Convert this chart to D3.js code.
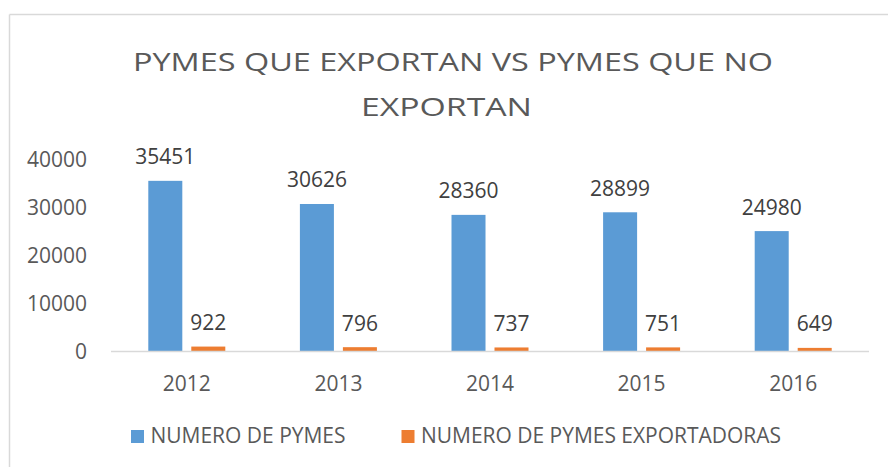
<!DOCTYPE html>
<html>
<head>
<meta charset="utf-8">
<script src="https://cdn.jsdelivr.net/npm/d3@7"></script>
<style>
  html, body { margin: 0; padding: 0; background: #fff; }
  svg { display: block; }
  text { font-family: "Open Sans", "Noto Sans", sans-serif; }
</style>
</head>
<body>
<div id="wrap"></div>
<script>

// data
var years = ["2012", "2013", "2014", "2015", "2016"];
var pymes = [35451, 30626, 28360, 28899, 24980];
var exportadoras = [922, 796, 737, 751, 649];
var seriesNames = ["NUMERO DE PYMES", "NUMERO DE PYMES EXPORTADORAS"];
var yTicks = [0, 10000, 20000, 30000, 40000];
var colors = ["#5b9bd5", "#ed7d31"];

var W = 888, H = 467;

var svg = d3.select("#wrap").append("svg")
    .attr("width", W)
    .attr("height", H);

// chart frame (top + left edges visible)
svg.append("line")
    .attr("x1", 9.5).attr("x2", W)
    .attr("y1", 14.5).attr("y2", 14.5)
    .attr("stroke", "#d9d9d9").attr("stroke-width", 1.5);
svg.append("line")
    .attr("x1", 9.5).attr("x2", 9.5)
    .attr("y1", 14.5).attr("y2", H)
    .attr("stroke", "#d9d9d9").attr("stroke-width", 1.5);

// title
var title = svg.append("g").attr("fill", "#595959");
title.append("text")
    .attr("x", 453).attr("y", 71)
    .attr("text-anchor", "middle")
    .attr("font-size", 26)
    .attr("textLength", 640)
    .attr("lengthAdjust", "spacingAndGlyphs")
    .text("PYMES QUE EXPORTAN VS PYMES QUE NO");
title.append("text")
    .attr("x", 446.5).attr("y", 116)
    .attr("text-anchor", "middle")
    .attr("font-size", 26)
    .attr("textLength", 171)
    .attr("lengthAdjust", "spacingAndGlyphs")
    .text("EXPORTAN");

// scales
var x0 = d3.scaleBand()
    .domain(years)
    .range([111, 869])
    .padding(0);

var groupW = 77;
var x1 = d3.scaleBand()
    .domain([0, 1])
    .range([0, groupW])
    .paddingInner(0.209);

var y = d3.scaleLinear()
    .domain([0, 40000])
    .range([351, 159]);

// y axis labels (no line, no grid)
svg.append("g")
    .selectAll("text")
    .data(yTicks)
    .enter()
    .append("text")
    .attr("x", 87)
    .attr("y", function(d) { return y(d); })
    .attr("dy", "0.36em")
    .attr("text-anchor", "end")
    .attr("font-size", 21)
    .attr("fill", "#595959")
    .text(function(d) { return d; });

// bars
var rows = years.map(function(yr, i) {
    return { year: yr, vals: [pymes[i], exportadoras[i]] };
});

var groups = svg.append("g")
    .selectAll("g")
    .data(rows)
    .enter()
    .append("g")
    .attr("transform", function(d) {
        return "translate(" + (x0(d.year) + (x0.bandwidth() - groupW) / 2) + ",0)";
    });

groups.selectAll("rect")
    .data(function(d) { return d.vals; })
    .enter()
    .append("rect")
    .attr("x", function(d, i) { return x1(i); })
    .attr("width", x1.bandwidth())
    .attr("y", function(d) { return y(d); })
    .attr("height", function(d) { return y(0) - y(d); })
    .attr("fill", function(d, i) { return colors[i]; });

// data labels
groups.selectAll("text")
    .data(function(d) { return d.vals; })
    .enter()
    .append("text")
    .attr("x", function(d, i) { return x1(i) + x1.bandwidth() / 2; })
    .attr("y", function(d) { return y(d) - 16.5; })
    .attr("text-anchor", "middle")
    .attr("font-size", 21)
    .attr("fill", "#404040")
    .text(function(d) { return d; });

// x axis line
svg.append("line")
    .attr("x1", 111).attr("x2", 869)
    .attr("y1", 351.5).attr("y2", 351.5)
    .attr("stroke", "#d9d9d9").attr("stroke-width", 1.5);

// year labels
svg.append("g")
    .selectAll("text")
    .data(years)
    .enter()
    .append("text")
    .attr("x", function(d) { return x0(d) + x0.bandwidth() / 2; })
    .attr("y", 391)
    .attr("text-anchor", "middle")
    .attr("font-size", 21)
    .attr("fill", "#595959")
    .text(function(d) { return d; });

// legend
var legendX = [131, 401.5];
var legendW = [195, 360];
var legend = svg.append("g")
    .selectAll("g")
    .data(seriesNames)
    .enter()
    .append("g")
    .attr("transform", function(d, i) { return "translate(" + legendX[i] + ",430)"; });

legend.append("rect")
    .attr("width", 13).attr("height", 13)
    .attr("fill", function(d, i) { return colors[i]; });

legend.append("text")
    .attr("x", 19.5)
    .attr("y", 13)
    .attr("font-size", 21)
    .attr("fill", "#595959")
    .attr("textLength", function(d, i) { return legendW[i]; })
    .attr("lengthAdjust", "spacingAndGlyphs")
    .text(function(d) { return d; });

</script>
</body>
</html>
